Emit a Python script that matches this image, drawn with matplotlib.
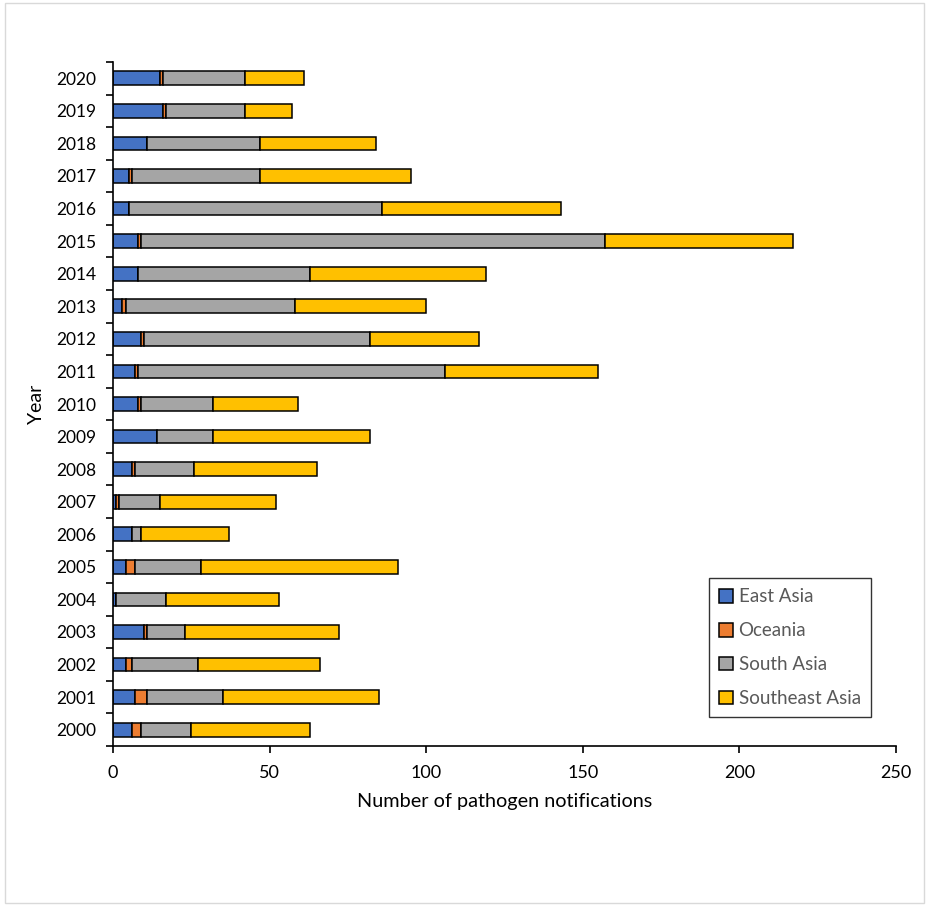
import numpy as np
import matplotlib
matplotlib.use('Agg')
import matplotlib.pyplot as plt
from matplotlib.patches import Rectangle

years = [str(y) for y in range(2000, 2021)]
east_asia = [6, 7, 4, 10, 1, 4, 6, 1, 6, 14, 8, 7, 9, 3, 8, 8, 5, 5, 11, 16, 15]
oceania = [3, 4, 2, 1, 0, 3, 0, 1, 1, 0, 1, 1, 1, 1, 0, 1, 0, 1, 0, 1, 1]
south_asia = [16, 24, 21, 12, 16, 21, 3, 13, 19, 18, 23, 98, 72, 54, 55, 148, 81, 41, 36, 25, 26]
southeast_asia = [38, 50, 39, 49, 36, 63, 28, 37, 39, 50, 27, 49, 35, 42, 56, 60, 57, 48, 37, 15, 19]

series = [("East Asia", east_asia, "#4472C4"),
          ("Oceania", oceania, "#ED7D31"),
          ("South Asia", south_asia, "#A5A5A5"),
          ("Southeast Asia", southeast_asia, "#FFC000")]

plt.rcParams['font.family'] = ['Lato', 'DejaVu Sans']

fig = plt.figure(figsize=(9.3, 9.06), dpi=100)
ax = fig.add_axes([113 / 930, 1 - 746 / 906, 783 / 930, 684 / 906])

# light outer frame like the exported chart area
fig.patches.append(Rectangle((5 / 930, 3 / 906), 919 / 930, 900 / 906, transform=fig.transFigure,
                             fill=False, edgecolor="#D9D9D9", linewidth=1))

y = np.arange(len(years))
left = np.zeros(len(years))
for name, vals, color in series:
    vals = np.array(vals, dtype=float)
    ax.barh(y, vals, left=left, height=0.42, color=color, edgecolor="black", linewidth=1.1, label=name)
    left += vals

ax.set_xlim(0, 250)
ax.set_ylim(-0.5, len(years) - 0.5)
ax.set_xticks([0, 50, 100, 150, 200, 250])
ax.set_yticks(y)
ax.set_yticklabels(years)
ax.set_yticks(np.arange(-0.5, len(years), 1), minor=True)
ax.tick_params(axis='y', which='major', length=0, labelsize=12.5, pad=12)
ax.tick_params(axis='y', which='minor', length=5, width=1.2)
ax.tick_params(axis='x', length=5, width=1.2, labelsize=13, pad=9)

for s in ["top", "right"]:
    ax.spines[s].set_visible(False)
for s in ["left", "bottom"]:
    ax.spines[s].set_linewidth(1.2)

ax.set_xlabel("Number of pathogen notifications", fontsize=14.3, labelpad=8)
ax.set_ylabel("Year", fontsize=14, labelpad=8)

leg = ax.legend(loc="lower right", bbox_to_anchor=(0.968, 0.042), fontsize=13.5,
                frameon=True, fancybox=False, edgecolor="black", handlelength=0.75,
                handleheight=0.75, labelspacing=0.9, borderpad=0.55, handletextpad=0.3,
                borderaxespad=0.0)
leg.get_frame().set_linewidth(1.0)
for t in leg.get_texts():
    t.set_color("#595959")

fig.savefig("out.png", dpi=100)
